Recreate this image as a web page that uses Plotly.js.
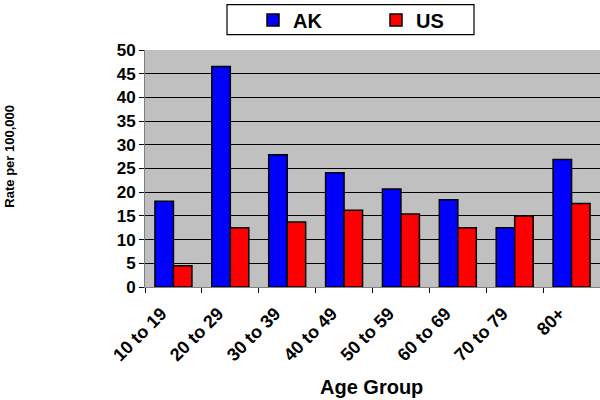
<!DOCTYPE html>
<html>
<head>
<meta charset="utf-8">
<script src="https://cdn.plot.ly/plotly-3.0.1.min.js"></script>
<style>html,body{margin:0;padding:0;background:#fff;}#chart{width:600px;height:400px;}</style>
</head>
<body>
<div id="chart"></div>
<script>
const categories = ["10 to 19","20 to 29","30 to 39","40 to 49","50 to 59","60 to 69","70 to 79","80+"];
const akValues = [18.1, 46.5, 27.9, 24.1, 20.7, 18.4, 12.5, 26.9];
const usValues = [4.5, 12.5, 13.7, 16.2, 15.4, 12.5, 15.0, 17.6];
const yTicks = [0,5,10,15,20,25,30,35,40,45,50];
const seriesNames = ["AK", "US"];

const FONT = "Arial, 'Liberation Sans', sans-serif";

// plot area in pixels: left 145, right 600, top 47, bottom 287
const PL = 145, PW = 455, PT = 47, PH = 240;
const px = v => (v - PL) / PW;
const py = v => (PT + PH - v) / PH;

const traces = [
  {type:'bar', name:'<b>' + seriesNames[0] + '</b>', x:categories, y:akValues,
   marker:{color:'#0000FF', line:{color:'#000000', width:1.5}}},
  {type:'bar', name:'<b>' + seriesNames[1] + '</b>', x:categories, y:usValues,
   marker:{color:'#FF0000', line:{color:'#000000', width:1.5}}}
];

const layout = {
  width:600, height:400,
  margin:{l:145, r:0, t:47, b:113, pad:0},
  paper_bgcolor:'#FFFFFF',
  plot_bgcolor:'#C0C0C0',
  barmode:'group', bargap:0.35, bargroupgap:0,
  font:{family:FONT, color:'#000000'},
  showlegend:true,
  legend:{
    orientation:'h', x:px(253), xanchor:'left', y:py(16.5), yanchor:'middle', valign:'middle',
    borderwidth:0, bgcolor:'rgba(0,0,0,0)',
    font:{family:FONT, size:20, color:'#000000', weight:'bold'},
    entrywidth:78, entrywidthmode:'pixels', itemwidth:30
  },
  shapes:[
    {type:'rect', xref:'paper', yref:'paper', x0:px(227), x1:px(474), y0:py(31.5), y1:py(1),
     line:{color:'#000000', width:1.2}, fillcolor:'rgba(0,0,0,0)', layer:'below'}
  ],
  annotations:[
    {text:'<b>Rate per 100,000</b>', xref:'paper', yref:'paper', x:px(10), y:py(155),
     xanchor:'center', yanchor:'middle', textangle:-90, showarrow:false,
     font:{family:FONT, size:13, color:'#000000'}},
    {text:'<b>Age Group</b>', xref:'paper', yref:'paper', x:px(371), y:py(388),
     xanchor:'center', yanchor:'middle', showarrow:false,
     font:{family:FONT, size:20, color:'#000000'}}
  ],
  xaxis:{
    type:'category',
    tickangle:-45,
    tickfont:{family:FONT, size:18, weight:'bold'},
    ticks:'outside', ticklen:5, tickcolor:'#000000', tickson:'boundaries',
    ticklabelshift:-12, ticklabelstandoff:8,
    showline:true, linecolor:'#808080', linewidth:1,
    showgrid:false
  },
  yaxis:{
    range:[0,50], tickvals:yTicks, ticktext:yTicks.map(String),
    tickfont:{family:FONT, size:17, weight:'bold'},
    ticks:'outside', ticklen:5, tickcolor:'#000000',
    showline:true, linecolor:'#808080', linewidth:1,
    showgrid:true, gridcolor:'#000000', gridwidth:1,
    zeroline:false
  }
};

Plotly.newPlot('chart', traces, layout, {displayModeBar:false, staticPlot:true});
</script>
</body>
</html>
